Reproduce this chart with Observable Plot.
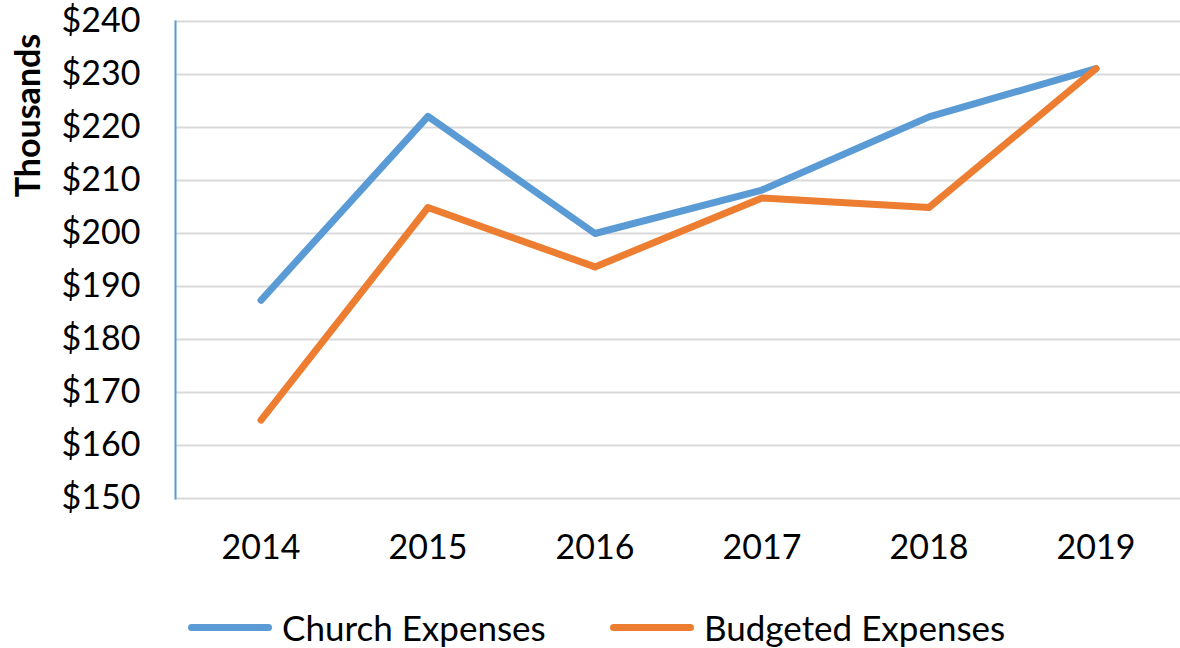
<!DOCTYPE html>
<html>
<head>
<meta charset="utf-8">
<script src="https://cdn.jsdelivr.net/npm/d3@7"></script>
<script src="https://cdn.jsdelivr.net/npm/@observablehq/plot@0.6"></script>
<style>
  html, body { margin: 0; padding: 0; background: #fff; }
  #wrap { position: relative; width: 1180px; height: 648px; font-family: Lato, "Open Sans", sans-serif; }
  #legend { position: absolute; left: 0; top: 606px; width: 1180px; height: 42px; font-size: 35px; color: #000; }
  .item { position: absolute; top: 0; display: flex; align-items: center; height: 42px; }
  .swatch { width: 84px; height: 7px; border-radius: 4px; margin-right: 10px; }
</style>
</head>
<body>
<div id="wrap">
  <div id="chart"></div>
  <div id="legend"></div>
</div>
<script>
const years = ["2014", "2015", "2016", "2017", "2018", "2019"];
const churchExpenses = [187.4, 222.1, 200.0, 208.2, 222.0, 231.1];
const budgetedExpenses = [164.8, 204.9, 193.7, 206.7, 204.9, 231.1];
const seriesNames = ["Church Expenses", "Budgeted Expenses"];
const seriesColors = ["#5B9BD5", "#ED7D31"];
const yTicks = [150, 160, 170, 180, 190, 200, 210, 220, 230, 240];

const data = [];
years.forEach((y, i) => data.push({year: y, value: churchExpenses[i], series: seriesNames[0]}));
years.forEach((y, i) => data.push({year: y, value: budgetedExpenses[i], series: seriesNames[1]}));

const font = "Lato, 'Open Sans', sans-serif";

const chart = Plot.plot({
  width: 1180,
  height: 590,
  marginLeft: 175,
  marginRight: 0,
  marginTop: 21,
  marginBottom: 92,
  style: {fontFamily: font, fontSize: "34px", color: "#000", background: "#fff", overflow: "visible"},
  x: {type: "band", domain: years, padding: 0, label: null},
  y: {domain: [150, 240], label: null},
  color: {domain: seriesNames, range: seriesColors},
  marks: [
    Plot.gridY(yTicks, {stroke: "#D9D9D9", strokeOpacity: 1, strokeWidth: 2}),
    Plot.axisY(yTicks, {tickSize: 0, tickPadding: 35, tickFormat: d => "$" + d, fontSize: 34, label: null}),
    Plot.axisX({tickSize: 0, tickPadding: 36, fontSize: 34, label: null}),
    Plot.frame({anchor: "left", stroke: "#5B9BD5", strokeWidth: 2}),
    Plot.line(data, {x: "year", y: "value", z: "series", stroke: "series", strokeWidth: 7, strokeLinecap: "round", strokeLinejoin: "round"}),
    Plot.text(["Thousands"], {frameAnchor: "top-left", dx: -146, dy: 94, rotate: -90, textAnchor: "middle", lineAnchor: "middle", fontWeight: "bold", fontSize: 34, fill: "#000"})
  ]
});
document.getElementById("chart").appendChild(chart);

const legend = document.getElementById("legend");
const lefts = [188, 610];
seriesNames.forEach((name, i) => {
  const item = document.createElement("div");
  item.className = "item";
  item.style.left = lefts[i] + "px";
  const sw = document.createElement("div");
  sw.className = "swatch";
  sw.style.background = seriesColors[i];
  const label = document.createElement("span");
  label.textContent = name;
  item.appendChild(sw);
  item.appendChild(label);
  legend.appendChild(item);
});
</script>
</body>
</html>
